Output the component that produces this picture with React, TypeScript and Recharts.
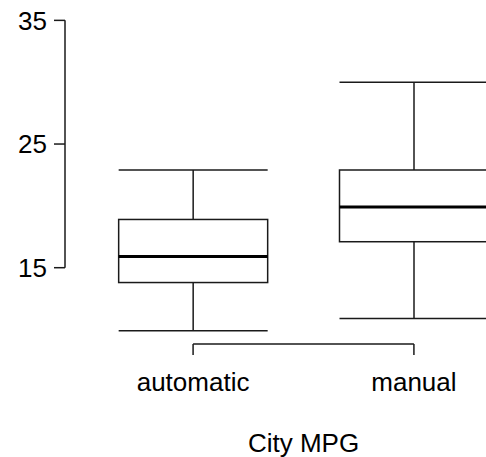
import { ComposedChart, Bar, XAxis, YAxis, ReferenceLine, Label } from "recharts";

const categories = ["automatic", "manual"];
const whiskerLow = [9.9, 10.9];
const q1 = [13.8, 17.1];
const medians = [15.9, 19.9];
const q3 = [18.9, 22.9];
const whiskerHigh = [22.9, 30.0];
const yTicks = [15, 25, 35];

const data = categories.map((name, i) => ({
  name,
  pos: i + 1,
  low: whiskerLow[i],
  q1: q1[i],
  median: medians[i],
  q3: q3[i],
  high: whiskerHigh[i],
  range: [whiskerLow[i], whiskerHigh[i]],
}));

const ink = "#1a1a1a";
const font = "'Liberation Sans', Arial, sans-serif";

function BoxShape(props: any) {
  const { x, y, width, height, payload } = props;
  const { low, high } = payload;
  // map a value into the bar's pixel span (bar = whisker range from the y scale)
  const py = (v: number) => y + ((high - v) / (high - low)) * height;
  const cx = x + width / 2;
  const top = py(payload.q3);
  const bottom = py(payload.q1);
  return (
    <g>
      <line x1={cx} x2={cx} y1={py(high)} y2={top} stroke={ink} strokeWidth={1.5} />
      <line x1={cx} x2={cx} y1={bottom} y2={py(low)} stroke={ink} strokeWidth={1.5} />
      <line x1={x} x2={x + width} y1={py(high)} y2={py(high)} stroke={ink} strokeWidth={1.5} />
      <line x1={x} x2={x + width} y1={py(low)} y2={py(low)} stroke={ink} strokeWidth={1.5} />
      <rect x={x} y={top} width={width} height={bottom - top} fill="none" stroke={ink} strokeWidth={1.5} />
      <line x1={x} x2={x + width} y1={py(payload.median)} y2={py(payload.median)} stroke="#000" strokeWidth={3} />
    </g>
  );
}

export default function App() {
  return (
    <div
      style={{
        position: "absolute",
        left: 0,
        top: 0,
        width: 486,
        height: 457,
        overflow: "hidden",
        background: "#fff",
        fontFamily: font,
      }}
    >
      <ComposedChart width={542} height={457} data={data} margin={{ top: 8, right: 0, bottom: 0, left: 0 }}>
        <XAxis
          type="number"
          dataKey="pos"
          domain={[0.42, 2.58]}
          allowDataOverflow
          ticks={[1, 2]}
          tickFormatter={(v) => categories[v - 1]}
          axisLine={false}
          tickLine={{ stroke: ink, strokeWidth: 1.5 }}
          tickSize={11}
          tickMargin={18}
          height={113}
          tick={{ fontSize: 26, fill: "#000", fontFamily: font }}
        >
          <Label value="City MPG" position="insideBottom" offset={5} fontSize={26} fill="#000" fontFamily={font} />
        </XAxis>
        <YAxis
          type="number"
          domain={[8.83, 36]}
          allowDataOverflow
          ticks={yTicks}
          axisLine={false}
          tickLine={{ stroke: ink, strokeWidth: 1.5 }}
          tickSize={11}
          tickMargin={7}
          width={65}
          tick={{ fontSize: 26, fill: "#000", fontFamily: font }}
        />
        <ReferenceLine
          segment={[{ x: 0.42, y: 15 }, { x: 0.42, y: 35 }]}
          stroke={ink}
          strokeWidth={1.5}
          ifOverflow="visible"
        />
        <ReferenceLine
          segment={[{ x: 1, y: 8.83 }, { x: 2, y: 8.83 }]}
          stroke={ink}
          strokeWidth={1.5}
          ifOverflow="visible"
        />
        <Bar dataKey="range" barSize={149} shape={<BoxShape />} isAnimationActive={false} />
      </ComposedChart>
    </div>
  );
}
